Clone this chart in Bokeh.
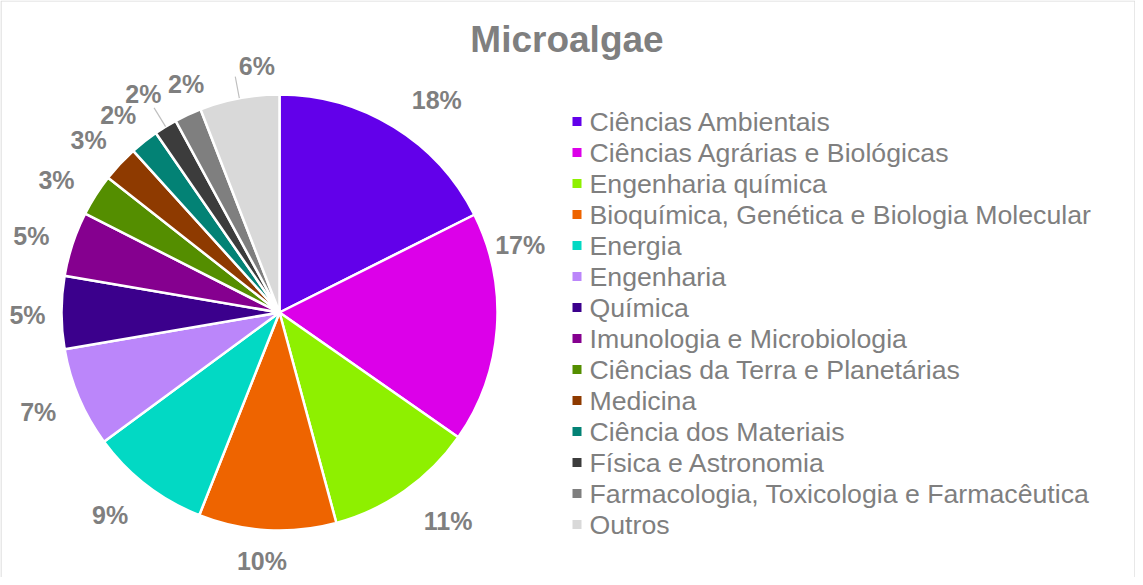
import math
from bokeh.plotting import figure
from bokeh.models import Range1d, ColumnDataSource
from bokeh.core.properties import value
from bokeh.embed import file_html
from bokeh.resources import INLINE

# ---------------- data ----------------
TITLE = "Microalgae"
categories = [
    "Ciências Ambientais",
    "Ciências Agrárias e Biológicas",
    "Engenharia química",
    "Bioquímica, Genética e Biologia Molecular",
    "Energia",
    "Engenharia",
    "Química",
    "Imunologia e Microbiologia",
    "Ciências da Terra e Planetárias",
    "Medicina",
    "Ciência dos Materiais",
    "Física e Astronomia",
    "Farmacologia, Toxicologia e Farmacêutica",
    "Outros",
]
shares = [17.6, 17.1, 11.1, 10.2, 8.9, 7.4, 5.4, 4.8, 3.1, 2.7, 2.1, 1.7, 2.0, 5.9]
colors = [
    "#6200EA", "#DC00E9", "#8EF000", "#EE6400", "#02D9C4", "#BB86FA", "#3B008C",
    "#85008F", "#548E00", "#8E3A00", "#038275", "#3C3C3C", "#7F7F7F", "#D9D9D9",
]

# ---------------- layout / style ----------------
W, H = 1135, 577
CX, CY, R = 287, -320, 218
GRAY = "#7F7F7F"
FONT = value("Liberation Sans")
label_nudge_deg = [-4.8, 19.8, 3.9, -0.8, -2.3, -0.6, 0.5, 1.2, 1.8, 1.0, 0.9, 0.4, -2.6, -5.4]
label_pad = [46.6, 32, 50, 31.6, 46, 43, 34, 41.7, 41.6, 39, 37, 39.5, 28.6, 30]
has_leader = [False] * 11 + [True, False, True]

total = sum(shares)
starts, ends, mids = [], [], []
cum = 0.0
for v in shares:
    a0 = 90 - 360 * cum / total
    cum += v
    a1 = 90 - 360 * cum / total
    starts.append(math.radians(a1))
    ends.append(math.radians(a0))
    mids.append((a0 + a1) / 2)

p = figure(width=W, height=H, output_backend="svg", toolbar_location=None,
           x_range=Range1d(8, 8 + W), y_range=Range1d(-8 - H, -8),
           x_axis_type=None, y_axis_type=None, min_border=0,
           background_fill_color="white", border_fill_color="white")
p.grid.visible = False
p.outline_line_color = None

# chart frame (top, left, right visible like the reference)
p.line(x=[8.5, 8.5, 1142.5, 1142.5], y=[-590, -8.5, -8.5, -590],
       line_color="#D9D9D9", line_width=1.2)

src = ColumnDataSource(dict(start=starts, end=ends, color=colors, cat=categories))
p.wedge(x=CX, y=CY, radius=R, start_angle="start", end_angle="end",
        direction="anticlock", fill_color="color", line_color="white",
        line_width=2.5, source=src)

# data labels
lx, ly, lt = [], [], []
for i, v in enumerate(shares):
    ang = math.radians(mids[i] + label_nudge_deg[i])
    d = R + label_pad[i]
    lx.append(CX + d * math.cos(ang))
    ly.append(CY + d * math.sin(ang))
    lt.append(f"{int(v + 0.5)}%")
    if has_leader[i]:
        m = math.radians(mids[i])
        p.line(x=[CX + R * math.cos(m), CX + (R + 22) * math.cos(m)],
               y=[CY + R * math.sin(m), CY + (R + 22) * math.sin(m)],
               line_color="#BFBFBF", line_width=1.2)
p.text(x=lx, y=ly, text=lt, text_font=FONT, text_font_size="25px",
       text_font_style="bold", text_color=GRAY, text_align="center",
       text_baseline="middle")

# title
p.text(x=[574.5], y=[-47], text=[TITLE], text_font=FONT, text_font_size="37px",
       text_font_style="bold", text_color=GRAY, text_align="center",
       text_baseline="middle")

# legend
leg_y = [-(129 + 31 * i) for i in range(len(categories))]
p.scatter(x=[584.5] * len(categories), y=leg_y, marker="square", size=9,
          fill_color=colors, line_color=None)
p.text(x=[597] * len(categories), y=leg_y, text=categories, text_font=FONT,
       text_font_size="26.7px", text_color=GRAY, text_align="left",
       text_baseline="middle")

open("out.html", "w").write(file_html(p, INLINE))
